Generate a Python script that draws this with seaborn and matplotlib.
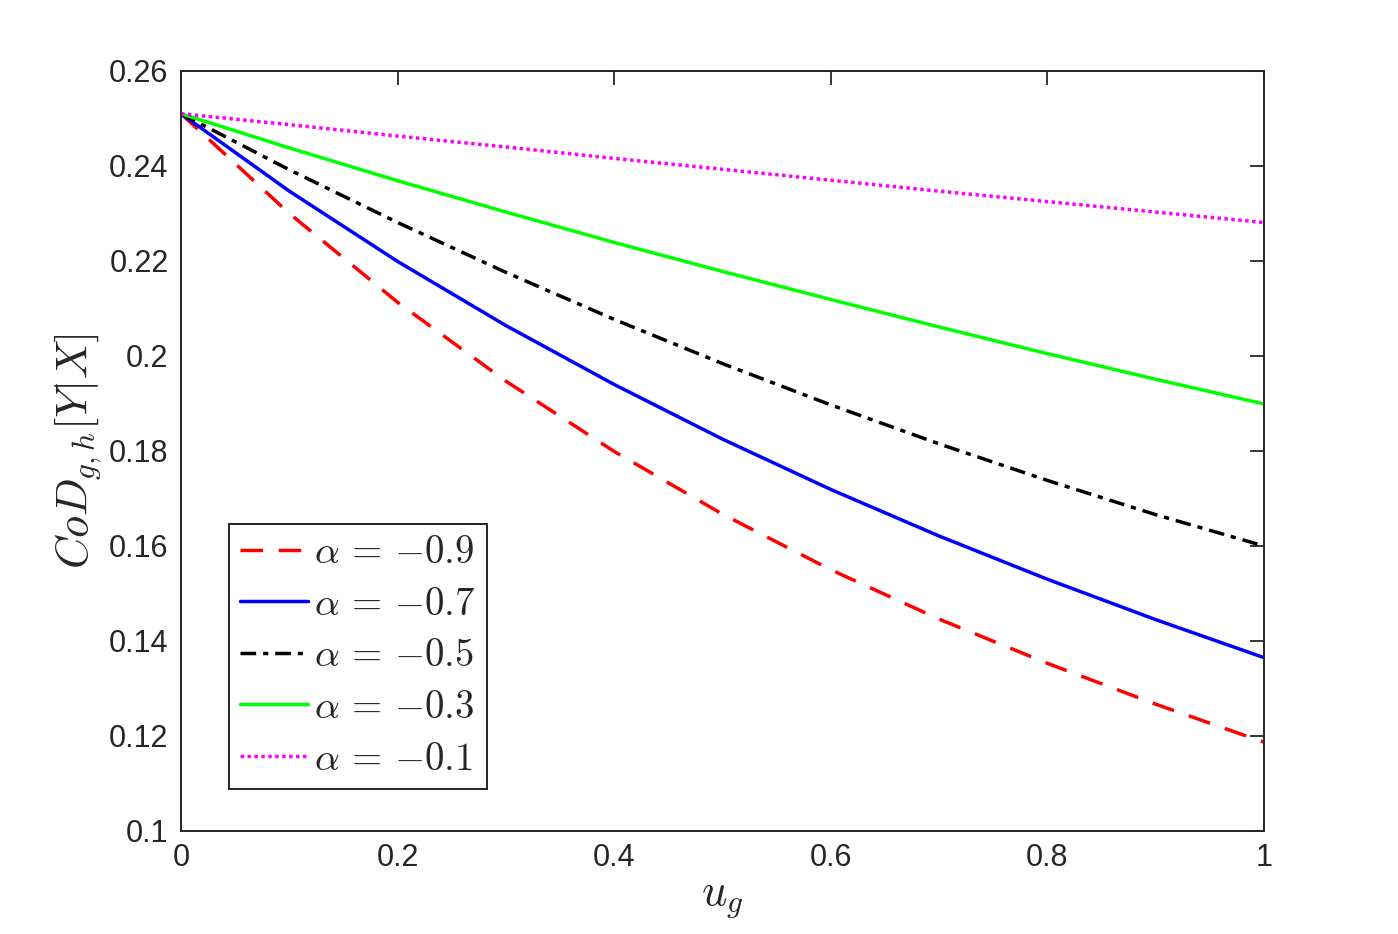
import matplotlib
matplotlib.use("Agg")
import matplotlib.pyplot as plt
import seaborn as sns
import pandas as pd

u_g = [0.0, 0.1, 0.2, 0.3, 0.4, 0.5, 0.6, 0.7, 0.8, 0.9, 1.0]
cod_a09 = [0.251, 0.2300, 0.2113, 0.1947, 0.1799, 0.1667, 0.1550, 0.1446, 0.1353, 0.1267, 0.1187]
cod_a07 = [0.251, 0.2347, 0.2199, 0.2064, 0.1940, 0.1825, 0.1719, 0.1621, 0.1530, 0.1445, 0.1365]
cod_a05 = [0.251, 0.2392, 0.2281, 0.2176, 0.2077, 0.1984, 0.1897, 0.1815, 0.1738, 0.1666, 0.1600]
cod_a03 = [0.251, 0.2438, 0.2369, 0.2303, 0.2239, 0.2178, 0.2119, 0.2061, 0.2005, 0.1951, 0.1899]
cod_a01 = [0.251, 0.2487, 0.2463, 0.2440, 0.2416, 0.2393, 0.2370, 0.2347, 0.2325, 0.2303, 0.2281]
labels = [r"$\alpha\,=\,{-}0.9$", r"$\alpha\,=\,{-}0.7$", r"$\alpha\,=\,{-}0.5$",
          r"$\alpha\,=\,{-}0.3$", r"$\alpha\,=\,{-}0.1$"]
x_ticks = [0, 0.2, 0.4, 0.6, 0.8, 1]
x_tick_labels = ["0", "0.2", "0.4", "0.6", "0.8", "1"]
y_ticks = [0.1, 0.12, 0.14, 0.16, 0.18, 0.2, 0.22, 0.24, 0.26]
y_tick_labels = ["0.1", "0.12", "0.14", "0.16", "0.18", "0.2", "0.22", "0.24", "0.26"]

sns.set_theme(style="white")
plt.rcParams["font.family"] = ["Liberation Sans", "DejaVu Sans"]
plt.rcParams["mathtext.fontset"] = "cm"

fig = plt.figure(figsize=(13.98, 9.34), dpi=100)
ax = fig.add_axes([0.1295, 0.1103, 0.7746, 0.8137])

series = [cod_a09, cod_a07, cod_a05, cod_a03, cod_a01]
colors = ["#ff0000", "#0000ff", "#000000", "#00ff00", "#ff00ff"]
styles = [(0, (6.5, 4.5)), "-", (0, (4.5, 2, 1.5, 2)), "-", (0, (1, 1))]

for vals, col, ls, lab in zip(series, colors, styles, labels):
    df = pd.DataFrame({"u": u_g, "cod": vals})
    sns.lineplot(data=df, x="u", y="cod", color=col, linestyle=ls,
                 linewidth=2.5, label=lab, ax=ax)

ax.set_xlim(0, 1)
ax.set_ylim(0.1, 0.26)
ax.set_xticks(x_ticks)
ax.set_xticklabels(x_tick_labels)
ax.set_yticks(y_ticks)
ax.set_yticklabels(y_tick_labels)
ax.tick_params(direction="in", length=10, width=1.3, top=True, right=True,
               labelsize=22, colors="#262626", pad=9)
for sp in ax.spines.values():
    sp.set_visible(True)
    sp.set_color("#262626")
    sp.set_linewidth(1.4)

ax.set_xlabel(r"$u_g$", fontsize=32, color="#262626", labelpad=4)
ax.set_ylabel(r"$CoD_{g,h}[Y|X]$", fontsize=32, color="#262626", labelpad=4)

leg = ax.legend(loc="lower left", bbox_to_anchor=(0.044, 0.055), borderaxespad=0,
                fontsize=28, frameon=True, fancybox=False, edgecolor="#262626",
                framealpha=1, handlelength=1.75, handletextpad=0.15,
                labelspacing=0.4, borderpad=0.3)
leg.get_frame().set_linewidth(1.4)

fig.savefig("out.png", dpi=100, facecolor="white")
